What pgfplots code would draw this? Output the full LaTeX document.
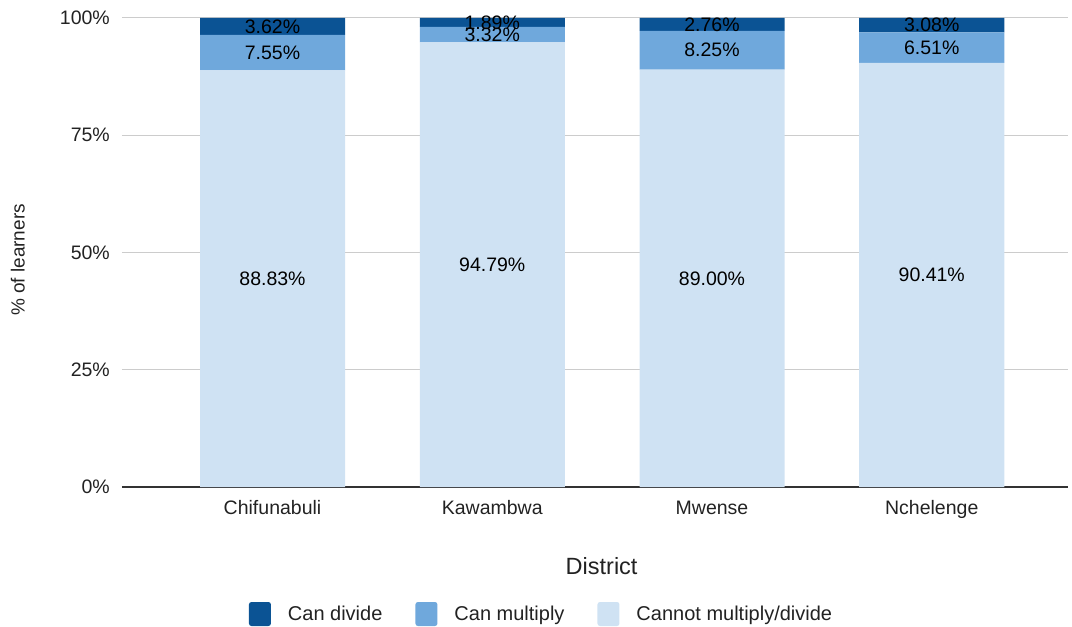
\documentclass[border=0pt]{standalone}
\usepackage{fontspec}
\setmainfont{Liberation Sans}
\usepackage{pgfplots}
\usepackage{pgfplotstable}
\pgfplotsset{compat=1.18}
\definecolor{cdiv}{HTML}{0B5394}
\definecolor{cmul}{HTML}{6FA8DC}
\definecolor{cnot}{HTML}{CFE2F3}
\definecolor{gridc}{HTML}{CCCCCC}
\definecolor{basec}{HTML}{333333}
\definecolor{txt}{HTML}{222222}
\pgfplotstableread{
x notmd mul div
0 88.83 7.55 3.62
1 94.79 3.32 1.89
2 89.00 8.25 2.76
3 90.41 6.51 3.08
}\data
\pgfplotsset{
  common/.style={at={(0pt,0pt)}, anchor=south west,
    scale only axis, width=946pt, height=469pt,
    xmin=-0.685, xmax=3.62, ymin=0, ymax=100},
}
\begin{document}
\begin{tikzpicture}
\path[use as bounding box] (-122pt,-140pt) rectangle (950pt,487pt);
\begin{axis}[
  common,
  ybar stacked, bar width=0.66,
  axis x line=bottom, axis y line=left,
  x axis line style={basec, line width=2pt, -},
  y axis line style={draw=none},
  major tick length=0pt,
  xtick={0,1,2,3}, xticklabels={Chifunabuli,Kawambwa,Mwense,Nchelenge},
  ytick={0,25,50,75,100}, yticklabels={0\%,25\%,50\%,75\%,100\%},
  ymajorgrids, grid style={gridc, line width=1pt},
  xticklabel style={font=\fontsize{19.5}{23}\selectfont, text=txt, anchor=base, yshift=-27pt},
  yticklabel style={font=\fontsize{19.5}{23}\selectfont, text=txt, anchor=east, inner sep=0pt, xshift=-12pt},
  xlabel={District},
  xlabel style={at={(axis description cs:0.507,-0.168)}, anchor=center, font=\fontsize{23.5}{27}\selectfont, text=txt},
  ylabel={\% of learners},
  ylabel style={at={(axis description cs:-0.110,0.484)}, anchor=center, font=\fontsize{19}{23}\selectfont, text=txt},
  legend image code/.code={\fill[#1, draw=none, rounded corners=2.5pt] (0pt,-12pt) rectangle (22pt,12pt);},
  legend columns=3, reverse legend,
  legend style={at={(axis description cs:0.1342,-0.2708)}, anchor=west, draw=none, fill=none,
    inner sep=0pt, outer sep=0pt, font=\fontsize{20}{24}\selectfont, text=txt,
    /tikz/every odd column/.append style={column sep=15pt},
    /tikz/every even column/.append style={column sep=31pt}},
  legend cell align=left,
]
\addplot[fill=cnot, draw=none] table[x=x, y=notmd] {\data};
\addplot[fill=cmul, draw=none] table[x=x, y=mul] {\data};
\addplot[fill=cdiv, draw=none] table[x=x, y=div] {\data};
\legend{Cannot multiply/divide, Can multiply, Can divide}
\end{axis}
\begin{axis}[
  common, hide axis, clip=false,
  point meta=explicit,
  nodes near coords={\pgfmathprintnumber[fixed,fixed zerofill,precision=2,assume math mode=true]{\pgfplotspointmeta}\%},
  nodes near coords style={font=\fontsize{19.5}{23}\selectfont, text=black, anchor=center, inner sep=0pt},
]
\addplot[draw=none, mark=none, only marks] table[x=x, y expr=\thisrow{notmd}/2, meta=notmd] {\data};
\addplot[draw=none, mark=none, only marks] table[x=x, y expr=\thisrow{notmd}+\thisrow{mul}/2, meta=mul] {\data};
\addplot[draw=none, mark=none, only marks] table[x=x, y expr=\thisrow{notmd}+\thisrow{mul}+\thisrow{div}/2, meta=div] {\data};
\end{axis}
\end{tikzpicture}
\end{document}
